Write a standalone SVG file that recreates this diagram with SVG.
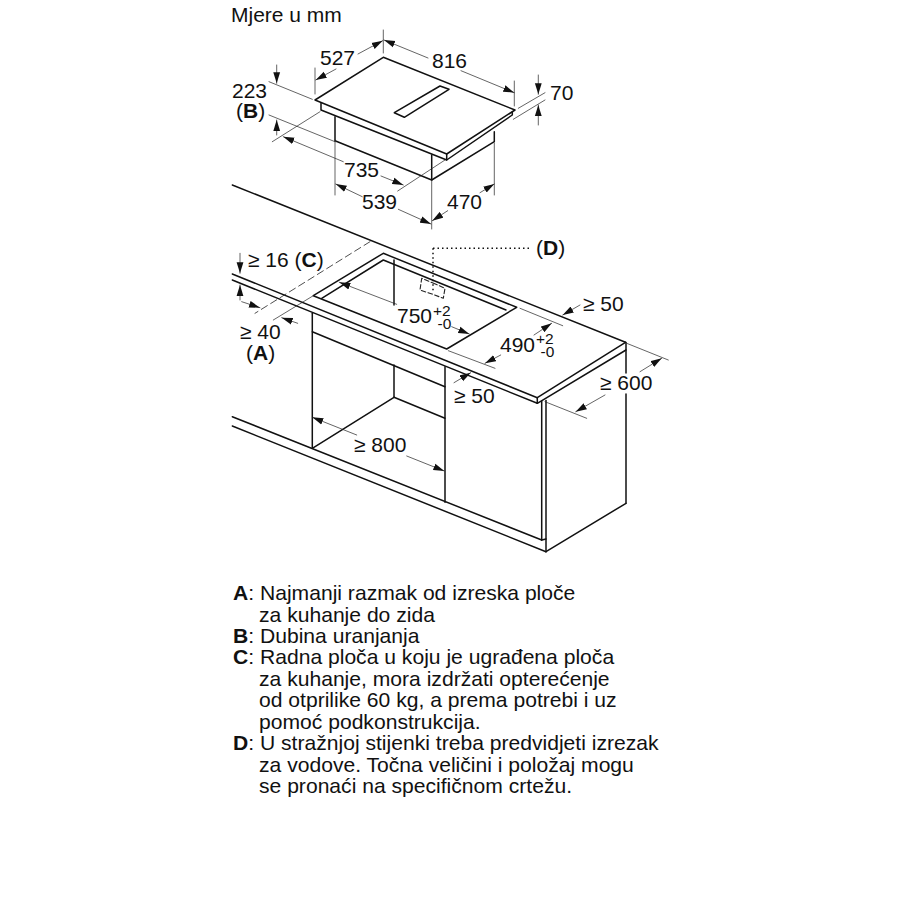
<svg xmlns="http://www.w3.org/2000/svg" width="900" height="900" viewBox="0 0 900 900">
<style>
text{font-family:"Liberation Sans",Arial,sans-serif;font-size:21px;fill:#111}
#legend text{font-size:21.1px}
.s{font-size:15.5px}
.b{font-weight:bold}
line,polyline,polygon{stroke-linecap:round;stroke-linejoin:round}
.m line,.m polyline{stroke:#111;stroke-width:1.5;fill:none}
.m polygon{stroke:#111;stroke-width:1.5;fill:#fff}
.t line,.e line{stroke:#222;stroke-width:.7}
.t line{marker-end:url(#a)}
.d line{stroke:#222;stroke-width:.8;stroke-dasharray:7 4}
.o line{stroke:#111;stroke-width:1.5;stroke-dasharray:1.5 3;stroke-linecap:butt}
.k polyline{stroke:#222;stroke-width:1.1;fill:none;stroke-dasharray:4.5 2.5}
</style>
<defs>
<marker id="a" markerUnits="userSpaceOnUse" markerWidth="12" markerHeight="8" refX="11" refY="4" orient="auto"><path d="M0 .6L11 4L0 7.4Z" fill="#111"/></marker>
</defs>
<rect width="900" height="900" fill="#fff"/>
<g id="hob" class="m">
<polygon points="315,100 383.3,57.3 515,110 446.7,154"/>
<polygon points="440,86 449,89.3 404.3,117.3 394.3,112.7"/>
<polyline points="321,103.3 321,110 446.7,160 512.3,115 512.3,112"/>
<line x1="446.7" y1="154" x2="446.7" y2="160"/>
<polyline points="335,116.7 335,140.7 431.7,180 494.3,141.7 494.3,131.7"/>
<line x1="431.7" y1="155" x2="431.7" y2="180"/>
</g>
<g id="worktop" class="m">
<line x1="232.3" y1="185" x2="625.5" y2="342.3"/>
<line x1="232.3" y1="274" x2="537.3" y2="397.7"/>
<line x1="232.3" y1="280" x2="537.3" y2="403.3"/>
<line x1="537.3" y1="397.7" x2="625.5" y2="342.3"/>
<line x1="537.3" y1="403.3" x2="626" y2="350"/>
<line x1="537.3" y1="397.7" x2="537.3" y2="403.3"/>
</g>
<g id="cutout" class="m">
<polygon points="313.3,295.7 383.3,253.3 516.7,307.3 446.7,349"/>
<polyline points="321.7,298.3 383.3,260 506,310"/>
</g>
<g id="cabinet" class="m">
<line x1="312.3" y1="313.3" x2="312.3" y2="448.3"/>
<line x1="312.3" y1="331.7" x2="445" y2="386.7"/>
<line x1="394" y1="260" x2="394" y2="305"/>
<line x1="394" y1="365" x2="394" y2="397.3"/>
<line x1="312.3" y1="448.3" x2="394" y2="397.3"/>
<line x1="394" y1="397.3" x2="445" y2="418.3"/>
<line x1="445" y1="366.7" x2="445" y2="502.3"/>
<line x1="541.7" y1="401" x2="541.7" y2="540"/>
<line x1="546" y1="400.5" x2="546" y2="551.7"/>
<line x1="626" y1="342.5" x2="626" y2="373"/>
<line x1="626" y1="394" x2="626" y2="503.3"/>
<line x1="546" y1="551.7" x2="626" y2="503.3"/>
<line x1="232.3" y1="416.7" x2="541.7" y2="540"/>
<line x1="232.3" y1="426" x2="546" y2="551.7"/>
<line x1="541.7" y1="540" x2="546" y2="539"/>
</g>
<g id="connectors">
<g class="e">
<line x1="383.3" y1="30" x2="383.3" y2="53"/>
<line x1="315" y1="68" x2="315" y2="94"/>
<line x1="514.3" y1="81" x2="514.3" y2="106"/>
<line x1="518.3" y1="108.3" x2="545" y2="92.7"/>
<line x1="513.3" y1="119.3" x2="545" y2="100"/>
<line x1="269" y1="81.7" x2="312.3" y2="99.3"/>
<line x1="269" y1="115" x2="335" y2="141.7"/>
<line x1="320" y1="111.7" x2="272.3" y2="141.7"/>
<line x1="445" y1="160" x2="397.7" y2="191"/>
<line x1="335" y1="140" x2="335" y2="195"/>
<line x1="431.7" y1="180" x2="431.7" y2="229"/>
<line x1="494.3" y1="143" x2="494.3" y2="195"/>
<line x1="520" y1="308.3" x2="562.7" y2="325.7"/>
<line x1="448.3" y1="350.7" x2="495" y2="368.3"/>
<line x1="626.7" y1="343.3" x2="668.3" y2="360"/>
<line x1="545" y1="401.7" x2="586.7" y2="418.3"/>
<line x1="273.3" y1="320" x2="313.3" y2="295.7"/>
</g>
<g class="t">
<line x1="358" y1="54" x2="382.7" y2="40.7"/>
<line x1="336" y1="69" x2="315.7" y2="80"/>
<line x1="428" y1="58" x2="384" y2="40"/>
<line x1="461" y1="70.7" x2="514.3" y2="92.7"/>
<line x1="538.3" y1="75" x2="538.3" y2="94.3"/>
<line x1="538.3" y1="125" x2="538.3" y2="105"/>
<line x1="276.7" y1="65" x2="276.7" y2="83.3"/>
<line x1="276.7" y1="135" x2="276.7" y2="120"/>
<line x1="343.3" y1="161.7" x2="283.3" y2="136.7"/>
<line x1="381" y1="176" x2="403.3" y2="185"/>
<line x1="362.3" y1="196.7" x2="335.7" y2="184"/>
<line x1="398.3" y1="209.3" x2="431" y2="224"/>
<line x1="447.7" y1="210.7" x2="432.3" y2="220.7"/>
<line x1="480" y1="192.7" x2="494.3" y2="184"/>
<line x1="240" y1="253.3" x2="240" y2="273.3"/>
<line x1="240" y1="300" x2="240" y2="285"/>
<line x1="241.7" y1="301.7" x2="260" y2="307.7"/>
<line x1="297.7" y1="323.3" x2="281.7" y2="317.7"/>
<line x1="396.7" y1="304.3" x2="339.3" y2="282.3"/>
<line x1="451.7" y1="326.7" x2="469.3" y2="334"/>
<line x1="534" y1="335" x2="551.7" y2="323.3"/>
<line x1="500.7" y1="355" x2="485" y2="363.3"/>
<line x1="580" y1="305" x2="562.7" y2="315"/>
<line x1="454" y1="382.7" x2="470.7" y2="372.7"/>
<line x1="640" y1="371.7" x2="661.7" y2="358.3"/>
<line x1="605" y1="395" x2="575.7" y2="411.7"/>
<line x1="356.7" y1="435" x2="312.3" y2="417.3"/>
<line x1="406.7" y1="456" x2="444.3" y2="471"/>
</g>
<g class="d"><line x1="370" y1="241.7" x2="255" y2="313.3"/></g>
<g class="o">
<line x1="433" y1="248.3" x2="531.7" y2="248.3"/>
<line x1="433" y1="248.3" x2="433" y2="292"/>
</g>
<g class="k"><polyline points="433,283 445,288.3 443.3,298.3 432,294 420,290 421.7,278.3 433,283"/></g>
</g>
<g id="labels">
<text x="231" y="22">Mjere u mm</text>
<text x="320" y="65">527</text>
<text x="432" y="68">816</text>
<text x="550" y="100">70</text>
<text x="232" y="98">223</text>
<text x="236" y="118">(<tspan class="b">B</tspan>)</text>
<text x="344" y="177">735</text>
<text x="362" y="209">539</text>
<text x="447" y="209">470</text>
<text x="248" y="267">≥ 16 (<tspan class="b">C</tspan>)</text>
<text x="240" y="339">≥ 40</text>
<text x="246" y="360">(<tspan class="b">A</tspan>)</text>
<text x="397" y="323">750</text><text x="433" y="316" class="s">+2</text><text x="437.5" y="329" class="s">-0</text>
<text x="500" y="352">490</text><text x="536" y="344" class="s">+2</text><text x="540.5" y="357" class="s">-0</text>
<text x="583" y="311">≥ 50</text>
<text x="454" y="403">≥ 50</text>
<text x="600" y="390">≥ 600</text>
<text x="354" y="452">≥ 800</text>
<text x="536" y="255">(<tspan class="b">D</tspan>)</text>
</g>
<g id="legend">
<text x="233" y="600"><tspan class="b">A</tspan>: Najmanji razmak od izreska ploče</text>
<text x="259" y="622">za kuhanje do zida</text>
<text x="233" y="643"><tspan class="b">B</tspan>: Dubina uranjanja</text>
<text x="233" y="664"><tspan class="b">C</tspan>: Radna ploča u koju je ugrađena ploča</text>
<text x="259" y="686">za kuhanje, mora izdržati opterećenje</text>
<text x="259" y="707">od otprilike 60 kg, a prema potrebi i uz</text>
<text x="259" y="729">pomoć podkonstrukcija.</text>
<text x="233" y="750"><tspan class="b">D</tspan>: U stražnjoj stijenki treba predvidjeti izrezak</text>
<text x="259" y="772">za vodove. Točna veličini i položaj mogu</text>
<text x="259" y="793">se pronaći na specifičnom crtežu.</text>
</g>
</svg>
